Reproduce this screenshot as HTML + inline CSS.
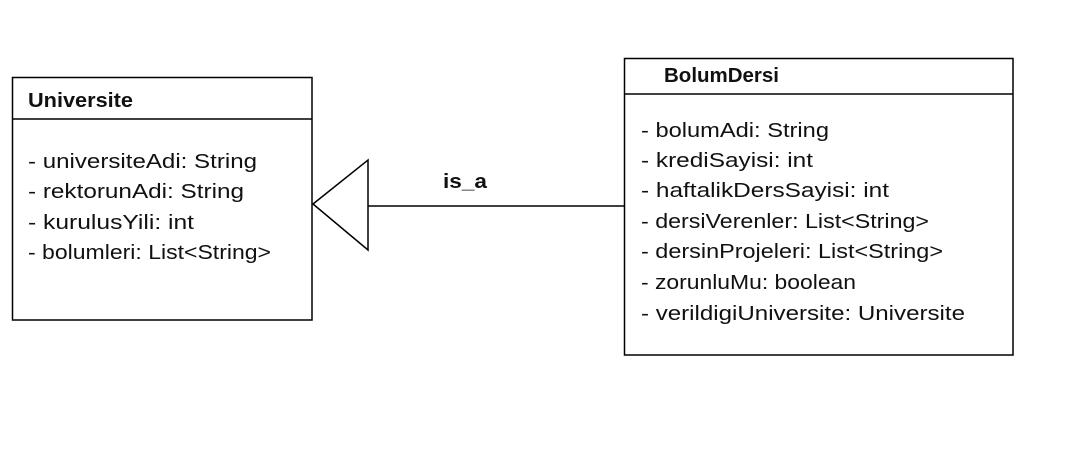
<!DOCTYPE html>
<html><head><meta charset="utf-8"><style>body{margin:0;background:#fff}svg{display:block}</style></head>
<body>
<svg width="1087" height="450" xmlns="http://www.w3.org/2000/svg" font-family="Liberation Sans, sans-serif">
<rect width="1087" height="450" fill="#fff"/>
<g fill="none" stroke="#000" stroke-width="1.5">
<rect x="12.5" y="77.5" width="299.5" height="242.5"/>
<line x1="12" y1="119" x2="312" y2="119"/>
<rect x="624.5" y="58.5" width="388.5" height="296.5"/>
<line x1="624" y1="94" x2="1013" y2="94"/>
<polygon points="313,204 368,160 368,250"/>
<line x1="368" y1="206" x2="624" y2="206"/>
</g>
<g font-size="20" fill="#111">
<text x="28" y="107" font-weight="bold" textLength="105" lengthAdjust="spacingAndGlyphs">Universite</text>
<text x="28" y="168" textLength="229" lengthAdjust="spacingAndGlyphs">- universiteAdi: String</text>
<text x="28" y="198" textLength="216" lengthAdjust="spacingAndGlyphs">- rektorunAdi: String</text>
<text x="28" y="229" textLength="166" lengthAdjust="spacingAndGlyphs">- kurulusYili: int</text>
<text x="28" y="259" textLength="243" lengthAdjust="spacingAndGlyphs">- bolumleri: List&lt;String&gt;</text>
<text x="664" y="82" font-weight="bold" textLength="115" lengthAdjust="spacingAndGlyphs">BolumDersi</text>
<text x="641" y="137" textLength="188" lengthAdjust="spacingAndGlyphs">- bolumAdi: String</text>
<text x="641" y="167" textLength="172" lengthAdjust="spacingAndGlyphs">- krediSayisi: int</text>
<text x="641" y="197" textLength="248" lengthAdjust="spacingAndGlyphs">- haftalikDersSayisi: int</text>
<text x="641" y="228" textLength="288" lengthAdjust="spacingAndGlyphs">- dersiVerenler: List&lt;String&gt;</text>
<text x="641" y="258" textLength="302" lengthAdjust="spacingAndGlyphs">- dersinProjeleri: List&lt;String&gt;</text>
<text x="641" y="289" textLength="215" lengthAdjust="spacingAndGlyphs">- zorunluMu: boolean</text>
<text x="641" y="320" textLength="324" lengthAdjust="spacingAndGlyphs">- verildigiUniversite: Universite</text>
<text x="443" y="188" font-weight="bold" textLength="44" lengthAdjust="spacingAndGlyphs">is_a</text>
</g>
</svg>
</body></html>
